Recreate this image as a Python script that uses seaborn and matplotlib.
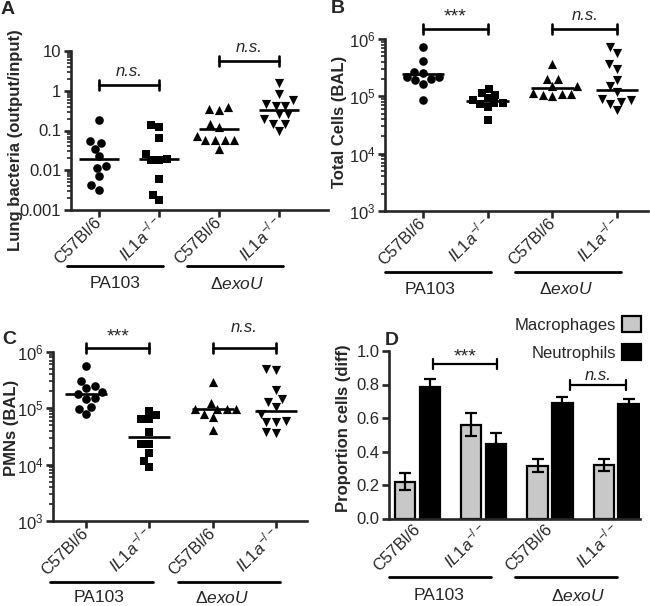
import numpy as np
import pandas as pd
import matplotlib
matplotlib.use("Agg")
import matplotlib.pyplot as plt
import matplotlib.transforms as mtransforms
from matplotlib.lines import Line2D
from matplotlib.patches import Patch
from matplotlib.ticker import FixedLocator, LogLocator, NullFormatter, FixedFormatter, FormatStrFormatter
import seaborn as sns

# ---------------- data ----------------
groups = ["PA103 C57Bl/6", "PA103 IL1a", "exoU C57Bl/6", "exoU IL1a"]
tick_labels = ["C57Bl/6", r"$\mathit{IL1a}^{-/-}$", "C57Bl/6", r"$\mathit{IL1a}^{-/-}$"]
strain_labels = ["PA103", r"$\mathregular{\Delta}\mathit{exoU}$"]

# Panel A: lung bacteria (output/input)
A_c57_pa = [0.18, 0.053, 0.049, 0.035, 0.0225, 0.0126, 0.0115, 0.0071, 0.0042, 0.0032]
A_il1a_pa = [0.139, 0.124, 0.065, 0.0253, 0.0193, 0.0179, 0.0179, 0.0062, 0.0024, 0.0018]
A_c57_ex = [0.396, 0.338, 0.326, 0.150, 0.124, 0.072, 0.059, 0.057, 0.057, 0.057, 0.035]
A_il1a_ex = [1.59, 0.83, 0.58, 0.46, 0.42, 0.42, 0.254, 0.254, 0.19, 0.15, 0.15, 0.098]
A_means = [0.019, 0.019, 0.11, 0.32]

# Panel B: total cells (BAL)
B_c57_pa = [7.3e5, 4.2e5, 2.7e5, 2.6e5, 2.2e5, 2.2e5, 2.0e5, 1.9e5, 1.66e5, 8.5e4]
B_il1a_pa = [1.34e5, 1.14e5, 1.07e5, 9.3e4, 8.7e4, 7.8e4, 7.8e4, 7.4e4, 6.5e4, 3.9e4]
B_c57_ex = [3.66e5, 2.0e5, 2.0e5, 1.49e5, 1.49e5, 1.15e5, 1.1e5, 1.1e5, 1.05e5, 1.0e5]
B_il1a_ex = [7.2e5, 5.7e5, 3.66e5, 3.0e5, 1.95e5, 1.49e5, 1.17e5, 9.1e4, 8.5e4, 8.1e4, 7.4e4, 5.8e4]
B_means = [2.45e5, 8.4e4, 1.41e5, 1.29e5]

# Panel C: PMNs (BAL)
C_c57_pa = [5.7e5, 3.05e5, 2.5e5, 2.3e5, 1.92e5, 1.77e5, 1.51e5, 1.45e5, 1.07e5, 9.7e4, 7.9e4]
C_il1a_pa = [9.1e4, 7.6e4, 6.4e4, 6.4e4, 3.85e4, 2.3e4, 2.3e4, 1.63e4, 1.17e4, 9.2e3]
C_c57_ex = [2.97e5, 1.26e5, 9.6e4, 9.6e4, 9.6e4, 9.6e4, 7.9e4, 6.9e4, 4.2e4]
C_il1a_ex = [4.9e5, 4.8e5, 2.1e5, 1.45e5, 1.31e5, 1.07e5, 7.9e4, 6.0e4, 5.8e4, 5.8e4, 3.85e4, 3.7e4]
C_means = [1.77e5, 3.05e4, 9.8e4, 9.1e4]

# Panel D: proportion cells (diff)
cell_types = ["Macrophages", "Neutrophils"]
D_macro = [0.22, 0.56, 0.315, 0.32]
D_macro_err = [0.05, 0.07, 0.04, 0.035]
D_neut = [0.785, 0.445, 0.69, 0.684]
D_neut_err = [0.048, 0.064, 0.036, 0.03]

# ---------------- style ----------------
sns.set_style("ticks")
plt.rcParams["font.family"] = ["Liberation Sans", "DejaVu Sans"]
plt.rcParams["mathtext.fontset"] = "custom"
plt.rcParams["mathtext.rm"] = "Liberation Sans"
plt.rcParams["mathtext.it"] = "Liberation Sans:italic"
plt.rcParams["mathtext.bf"] = "Liberation Sans:bold"

W, H = 650, 606
fig = plt.figure(figsize=(W / 100, H / 100), dpi=100)

def rect(l, r, t, b):
    return [l / W, 1 - b / H, (r - l) / W, (b - t) / H]

FS_TICK = 12
FS_LAB = 12
LW = 1.9
markers = ["o", "s", "^", "v"]
msizes = [6.2, 5.6, 6.6, 6.6]

def fig_line(x1, x2, y, lw=2.0):
    fig.add_artist(Line2D([x1 / W, x2 / W], [1 - y / H, 1 - y / H], color="black", lw=lw))

def fig_text(x, y, s, **kw):
    fig.text(x / W, 1 - y / H, s, **kw)

def bracket(ax, x1, x2, ypx, label, ty, lw=1.9, tick=5, italic=False, fs=12):
    tr = mtransforms.blended_transform_factory(ax.transData, fig.transFigure)
    y = 1 - ypx / H
    d = tick / H
    ax.add_line(Line2D([x1, x2], [y, y], color="black", lw=lw, transform=tr, clip_on=False))
    for xx in (x1, x2):
        ax.add_line(Line2D([xx, xx], [y - d, y + d], color="black", lw=lw, transform=tr, clip_on=False))
    ax.text((x1 + x2) / 2, 1 - ty / H, label, transform=tr, ha="center", va="center",
            fontsize=fs, style="italic" if italic else "normal", clip_on=False)

def style_axes(ax):
    sns.despine(ax=ax)
    for sp in ("left", "bottom"):
        ax.spines[sp].set_linewidth(LW)
    ax.tick_params(axis="y", which="major", length=5, width=LW, labelsize=FS_TICK, pad=2)
    ax.tick_params(axis="y", which="minor", length=3, width=1.2)
    ax.tick_params(axis="x", which="major", length=5, width=LW, labelsize=FS_TICK, pad=2)
    ax.tick_params(axis="x", which="minor", length=0)

def set_xlabels(ax):
    ax.set_xticks(range(4))
    ax.set_xticklabels(tick_labels, rotation=45, ha="right", va="center", rotation_mode="anchor")
    off = mtransforms.ScaledTranslation(4 / 72, 0, fig.dpi_scale_trans)
    for lab in ax.get_xticklabels():
        lab.set_transform(lab.get_transform() + off)

def scatter_panel(rect_px, series, means, ylim, xlim, ylabel, major, major_labels, label_xy):
    ax = fig.add_axes(rect(*rect_px))
    for i, vals in enumerate(series):
        sns.swarmplot(x=[groups[i]] * len(vals), y=vals, order=groups, marker=markers[i],
                      color="black", size=msizes[i], linewidth=0, ax=ax, log_scale=True)
    for i, m in enumerate(means):
        ax.hlines(m, i - 0.33, i + 0.33, color="black", lw=1.9, zorder=5)
    ax.set_yscale("log")
    ax.set_ylim(*ylim)
    ax.set_xlim(*xlim)
    ax.yaxis.set_major_locator(FixedLocator(major))
    ax.yaxis.set_major_formatter(FixedFormatter(major_labels))
    ax.yaxis.set_minor_locator(LogLocator(base=10, subs=np.arange(2, 10)))
    ax.yaxis.set_minor_formatter(NullFormatter())
    set_xlabels(ax)
    ax.set_xlabel("")
    ax.set_ylabel(ylabel, fontsize=FS_LAB, fontweight="bold")
    ax.yaxis.set_label_coords(*label_xy)
    style_axes(ax)
    return ax

# ---- Panel A ----
axA = scatter_panel((71, 328, 51, 210), [A_c57_pa, A_il1a_pa, A_c57_ex, A_il1a_ex], A_means,
                    (0.001, 10), (-0.467, 3.82), "Lung bacteria (output/input)",
                    [0.001, 0.01, 0.1, 1, 10], ["0.001", "0.01", "0.1", "1", "10"], (-0.185, 0.44))
bracket(axA, 0, 1, 85, "n.s.", 72, italic=True)
bracket(axA, 2, 3, 61, "n.s.", 48, italic=True)

# ---- Panel B ----
exp_labels = [r"$\mathregular{10^{3}}$", r"$\mathregular{10^{4}}$", r"$\mathregular{10^{5}}$", r"$\mathregular{10^{6}}$"]
axB = scatter_panel((385, 648, 39, 211), [B_c57_pa, B_il1a_pa, B_c57_ex, B_il1a_ex], B_means,
                    (1e3, 1e6), (-0.59, 3.48), "Total Cells (BAL)",
                    [1e3, 1e4, 1e5, 1e6], exp_labels, (-0.145, 0.52))
bracket(axB, 0, 1, 29, "***", 17, fs=14)
bracket(axB, 2, 3, 29, "n.s.", 15, italic=True)

# ---- Panel C ----
axC = scatter_panel((53, 307, 352, 521), [C_c57_pa, C_il1a_pa, C_c57_ex, C_il1a_ex], C_means,
                    (1e3, 1e6), (-0.52, 3.49), "PMNs (BAL)",
                    [1e3, 1e4, 1e5, 1e6], exp_labels, (-0.135, 0.55))
bracket(axC, 0, 1, 348, "***", 337, fs=14)
bracket(axC, 2, 3, 348, "n.s.", 327, italic=True)

# ---- Panel D ----
axD = fig.add_axes(rect(389, 640, 351, 518.5))
dfD = pd.DataFrame({
    "group": groups * 2,
    "cell": [cell_types[0]] * 4 + [cell_types[1]] * 4,
    "prop": D_macro + D_neut,
})
sns.barplot(data=dfD, x="group", y="prop", hue="cell", order=groups, hue_order=cell_types,
            palette=["#c8c8c8", "black"], edgecolor="black", linewidth=1.6,
            width=0.75, gap=0.18, errorbar=None, legend=False, ax=axD)
for cont, vals, errs in zip(axD.containers, [D_macro, D_neut], [D_macro_err, D_neut_err]):
    for bar, v, e in zip(cont, vals, errs):
        xc = bar.get_x() + bar.get_width() / 2
        axD.errorbar(xc, bar.get_height(), yerr=e, color="black", lw=1.6, capsize=4.5,
                     capthick=1.6, zorder=5)
axD.set_ylim(0, 1.0)
axD.set_xlim(-0.43, 3.36)
axD.set_yticks([0, 0.2, 0.4, 0.6, 0.8, 1.0])
axD.yaxis.set_major_formatter(FormatStrFormatter("%.1f"))
set_xlabels(axD)
axD.set_xlabel("")
axD.set_ylabel("Proportion cells (diff)", fontsize=FS_LAB, fontweight="bold")
axD.yaxis.set_label_coords(-0.15, 0.54)
style_axes(axD)
axD.tick_params(axis="x", which="major", length=0, pad=6)
bracket(axD, 0.23, 1.2, 364, "***", 357, lw=1.6, fs=14)
bracket(axD, 2.3, 3.15, 385, "n.s.", 376, lw=1.6, italic=True)
handles = [Patch(facecolor="#c8c8c8", edgecolor="black", lw=1.6),
           Patch(facecolor="black", edgecolor="black", lw=1.6)]
axD.legend(handles, cell_types, markerfirst=False, frameon=False, loc="upper right",
           bbox_to_anchor=(641 / W, 1 - 316 / H), bbox_transform=fig.transFigure,
           handlelength=1.15, handleheight=1.1, labelspacing=0.7, borderaxespad=0,
           borderpad=0, handletextpad=0.35, fontsize=12)

# ---- group underlines and strain labels ----
fig_line(67, 163, 266)
fig_line(187, 283, 266)
fig_text(115, 284, strain_labels[0], ha="center", va="center", fontsize=12.5)
fig_text(237, 284, strain_labels[1], ha="center", va="center", fontsize=12.5)

fig_line(385, 491, 272)
fig_line(515, 621, 272)
fig_text(430, 289, strain_labels[0], ha="center", va="center", fontsize=12.5)
fig_text(566, 289, strain_labels[1], ha="center", va="center", fontsize=12.5)

fig_line(50, 153, 582)
fig_line(178, 280, 582)
fig_text(99, 598, strain_labels[0], ha="center", va="center", fontsize=12.5)
fig_text(222, 598, strain_labels[1], ha="center", va="center", fontsize=12.5)

fig_line(389, 491, 577)
fig_line(515, 617, 577)
fig_text(439, 596, strain_labels[0], ha="center", va="center", fontsize=12.5)
fig_text(578, 596, strain_labels[1], ha="center", va="center", fontsize=12.5)

# ---- panel letters ----
fig_text(1, 1, "A", ha="left", va="top", fontsize=14, fontweight="bold")
fig_text(331, 0, "B", ha="left", va="top", fontsize=14, fontweight="bold")
fig_text(2, 331, "C", ha="left", va="top", fontsize=14, fontweight="bold")
fig_text(385, 332, "D", ha="left", va="top", fontsize=14, fontweight="bold")

fig.savefig("out.png", dpi=100)
